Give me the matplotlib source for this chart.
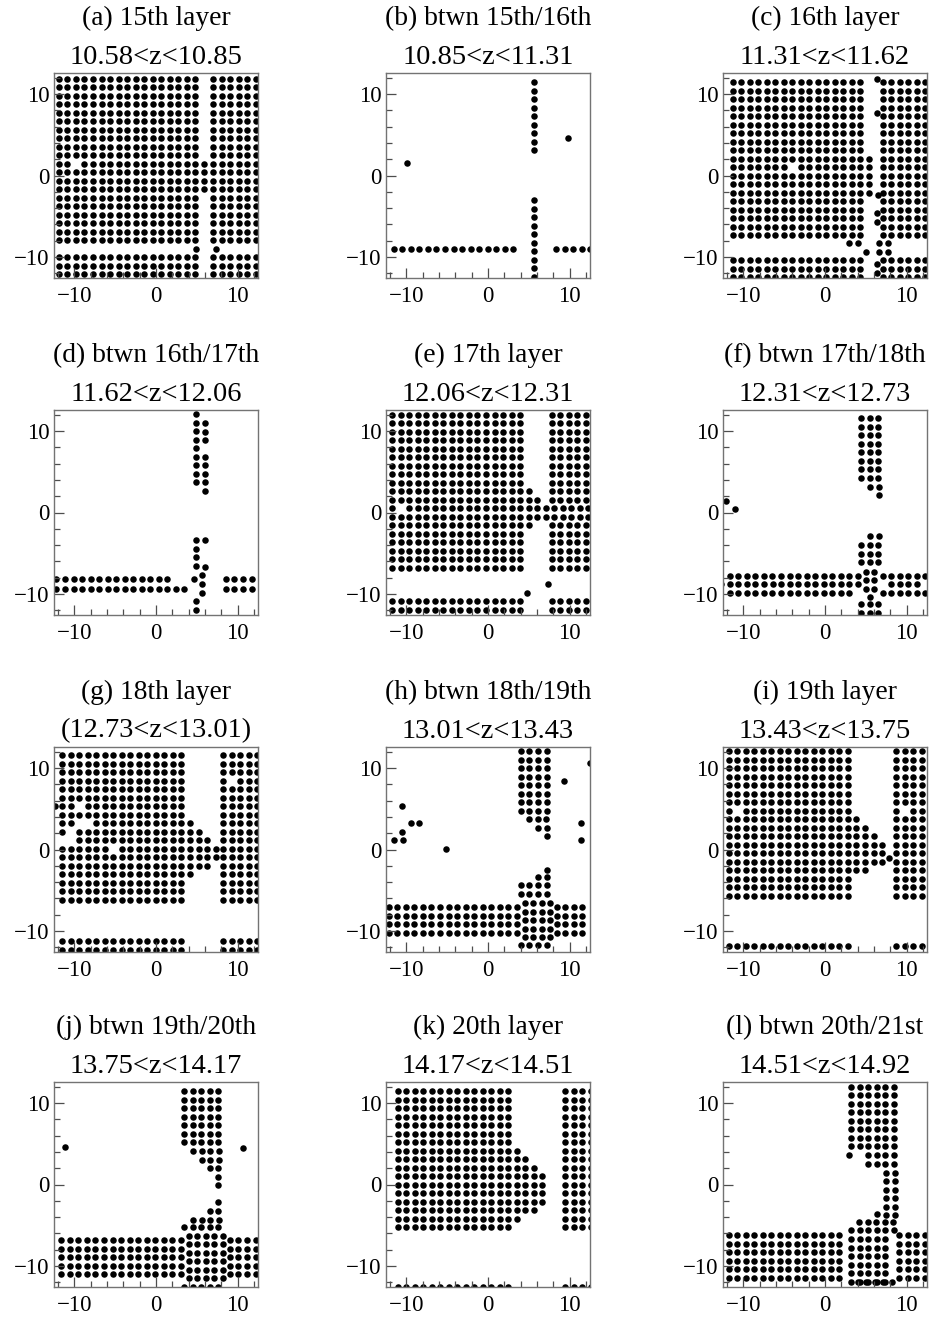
import numpy as np
import matplotlib.pyplot as plt
from matplotlib.ticker import MultipleLocator

# pixel pitch of the detector (cm)
PITCH = 1.045

titles = ["(a) 15th layer", "(b) btwn 15th/16th", "(c) 16th layer",
          "(d) btwn 16th/17th", "(e) 17th layer", "(f) btwn 17th/18th",
          "(g) 18th layer", "(h) btwn 18th/19th", "(i) 19th layer",
          "(j) btwn 19th/20th", "(k) 20th layer", "(l) btwn 20th/21st"]
z_ranges = ["10.58<z<10.85", "10.85<z<11.31", "11.31<z<11.62",
            "11.62<z<12.06", "12.06<z<12.31", "12.31<z<12.73",
            "(12.73<z<13.01)", "13.01<z<13.43", "13.43<z<13.75",
            "13.75<z<14.17", "14.17<z<14.51", "14.51<z<14.92"]

# hit blocks: (x of first column, y of top row, n columns, n rows)
blocks_a = [(-11.9, 11.9, 17, 20), (7.0, 11.9, 6, 20), (5.9, 1.45, 1, 4),
            (4.85, -9.0, 1, 1), (7.4, -9.0, 1, 1),
            (-11.9, -10.05, 17, 3), (7.0, -10.05, 6, 3)]
holes_a = [(-9.8, 1.45)]

blocks_b = [(5.68, 11.45, 1, 9), (5.68, -3.02, 1, 10),
            (-11.54, -9.0, 15, 1), (8.34, -9.0, 5, 1),
            (-9.98, 1.48, 1, 1), (9.77, 4.62, 1, 1)]
holes_b = []

blocks_c = [(-11.33, 11.45, 16, 19), (7.08, 11.45, 6, 19), (5.4, 1.03, 1, 3),
            (6.38, 11.86, 1, 1), (6.38, 7.69, 1, 1), (5.44, 2.05, 1, 1),
            (5.44, -2.12, 1, 1), (6.46, -2.41, 1, 1), (6.38, -4.66, 1, 2),
            (2.99, -8.34, 2, 1), (5.03, -9.36, 1, 1), (6.67, -8.34, 2, 2),
            (6.38, -10.9, 1, 2),
            (-11.33, -10.39, 16, 3), (7.08, -10.39, 6, 3)]
holes_c = [(-4.0, 1.03)]

blocks_d = [(4.89, 12.1, 1, 9), (5.99, 11.0, 1, 3), (5.99, 6.83, 1, 5),
            (4.89, -3.44, 1, 4), (5.99, -3.44, 1, 1), (5.99, -6.71, 1, 1),
            (5.66, -7.73, 1, 1), (4.68, -8.22, 1, 1), (5.66, -8.84, 1, 2),
            (4.89, -10.88, 1, 2),
            (-12.2, -8.22, 14, 1), (-12.2, -9.37, 16, 1),
            (8.57, -8.22, 4, 1), (8.57, -9.37, 4, 1)]
holes_d = []

blocks_e = [(-11.74, 12.02, 16, 19), (7.81, 12.02, 5, 11), (7.81, -1.565, 5, 6),
            (4.98, 2.6, 1, 2), (6.03, 1.57, 1, 1), (4.98, 0.525, 8, 2),
            (4.98, -1.565, 1, 1), (4.74, -9.86, 1, 1), (7.32, -8.75, 1, 1),
            (-11.74, -10.88, 16, 2), (7.81, -10.88, 5, 2)]
holes_e = [(-10.7, 0.525)]

blocks_f = [(4.42, 11.61, 3, 8), (5.52, 3.11, 2, 1), (6.59, 2.12, 1, 1),
            (-12.15, 1.47, 1, 1), (-11.0, 0.45, 1, 1),
            (5.52, -2.91, 2, 1), (4.42, -4.0, 3, 3),
            (-11.66, -7.8, 16, 1), (-12.7, -8.85, 17, 1), (-11.66, -9.9, 15, 1),
            (7.08, -7.8, 6, 1), (8.1, -8.85, 4, 1), (7.08, -9.9, 6, 1),
            (5.0, -7.3, 2, 3), (5.5, -10.4, 1, 1), (4.42, -11.29, 3, 2)]
holes_f = []

blocks_g = [(-11.51, 11.61, 15, 18), (8.24, 11.61, 5, 18), (-12.4, 5.3, 1, 1),
            (4.17, 3.25, 1, 1), (4.17, 2.2, 2, 1), (4.17, 1.16, 3, 1),
            (4.17, 0.115, 4, 2), (4.17, -1.975, 3, 1), (4.17, -3.02, 1, 1),
            (-11.51, -11.29, 15, 2), (8.24, -11.29, 5, 2)]
holes_g = [(-9.42, 5.34), (-9.42, 3.25), (-8.38, 3.25), (-10.47, 2.2),
           (-11.51, 1.16), (-10.47, 1.16), (-5.24, 0.115), (9.29, 8.47)]

blocks_h = [(4.04, 12.1, 4, 8), (5.07, 3.76, 3, 1), (6.17, 2.7, 2, 1), (7.19, 1.6, 1, 1),
            (12.51, 10.59, 1, 1), (9.36, 8.42, 1, 1), (11.4, 3.31, 1, 1), (11.4, 1.18, 1, 1),
            (-10.48, 5.35, 1, 1), (-9.45, 3.23, 2, 1), (-10.48, 2.21, 1, 1),
            (-11.5, 1.18, 2, 1), (-5.2, 0.08, 1, 1),
            (7.19, -2.5, 1, 1), (6.17, -3.4, 2, 1), (4.04, -4.42, 4, 2),
            (-12.15, -7.08, 16, 4), (4.5, -6.6, 4, 5), (8.42, -7.08, 4, 4),
            (4.04, -11.78, 4, 1)]
holes_h = []

blocks_i = [(-11.82, 12.1, 15, 18), (8.71, 12.1, 4, 18),
            (3.86, 3.74, 1, 1), (3.86, 2.7, 2, 1), (3.86, 1.65, 3, 1),
            (3.86, 0.605, 4, 3), (7.9, -1.06, 1, 1), (3.86, -2.53, 2, 1),
            (-11.82, -11.9, 15, 1), (8.71, -11.9, 4, 1)]
holes_i = [(-10.77, 4.79), (9.76, 4.79)]

blocks_j = [(3.45, 11.49, 5, 7), (4.56, 4.13, 4, 1), (5.58, 3.03, 3, 1),
            (6.6, 2.0, 2, 1), (7.63, 0.94, 1, 2),
            (-11.1, 4.62, 1, 1), (10.69, 4.54, 1, 1),
            (7.63, -2.21, 1, 1), (6.6, -3.31, 2, 1), (4.56, -4.33, 4, 1),
            (3.45, -5.28, 5, 1),
            (-11.6, -6.83, 15, 5), (4.0, -6.3, 5, 6), (9.06, -6.83, 4, 5),
            (3.45, -12.55, 5, 1)]
holes_j = []

blocks_k = [(-11.09, 11.49, 14, 17), (3.54, 4.175, 1, 1), (3.54, 3.13, 2, 1),
            (3.54, 2.085, 3, 1), (3.54, 1.04, 4, 4), (3.54, -3.14, 3, 1),
            (3.54, -4.185, 1, 1), (9.44, 11.49, 4, 17),
            (-11.09, -12.56, 14, 1), (9.44, -12.56, 4, 1)]
holes_k = []

blocks_l = [(3.19, 12.02, 6, 8), (3.0, 3.6, 1, 1), (5.32, 3.6, 4, 1),
            (5.32, 2.58, 4, 1), (7.49, 1.47, 2, 6), (6.38, -3.64, 1, 1),
            (4.21, -4.66, 5, 1), (3.19, -5.6, 6, 1),
            (-11.82, -6.22, 14, 6), (3.2, -6.71, 5, 6), (9.12, -6.22, 4, 6),
            (4.0, -12.02, 5, 1)]
holes_l = []

panel_blocks = [blocks_a, blocks_b, blocks_c, blocks_d, blocks_e, blocks_f,
                blocks_g, blocks_h, blocks_i, blocks_j, blocks_k, blocks_l]
panel_holes = [holes_a, holes_b, holes_c, holes_d, holes_e, holes_f,
               holes_g, holes_h, holes_i, holes_j, holes_k, holes_l]


def hits(blocks, holes):
    xs, ys = [], []
    for x0, y0, nx, ny in blocks:
        gx, gy = np.meshgrid(x0 + PITCH * np.arange(nx), y0 - PITCH * np.arange(ny))
        xs.append(gx.ravel())
        ys.append(gy.ravel())
    x = np.concatenate(xs)
    y = np.concatenate(ys)
    keep = np.ones(len(x), bool)
    for hx, hy in holes:
        keep &= np.hypot(x - hx, y - hy) > 0.4
    return x[keep], y[keep]


plt.rcParams['font.family'] = ['Liberation Serif', 'DejaVu Serif']
fig = plt.figure(figsize=(9.35, 13.19), dpi=100)

W, H = 935, 1319
lefts = [54, 386, 723]
bottoms = [278, 615, 952, 1287]

for k in range(12):
    r, c = divmod(k, 3)
    ax = fig.add_axes([lefts[c] / W, 1 - bottoms[r] / H, 204 / W, 205 / H])
    x, y = hits(panel_blocks[k], panel_holes[k])
    ax.scatter(x, y, s=22, c='black', linewidths=0)
    ax.set_xlim(-12.5, 12.5)
    ax.set_ylim(-12.6, 12.6)
    ax.xaxis.set_major_locator(MultipleLocator(10))
    ax.xaxis.set_minor_locator(MultipleLocator(2))
    ax.yaxis.set_major_locator(MultipleLocator(10))
    ax.yaxis.set_minor_locator(MultipleLocator(2))
    ax.tick_params(which='both', direction='in', top=False, right=False,
                   color='0.3', width=0.9, labelsize=16.5)
    ax.tick_params(axis='x', pad=6)
    ax.tick_params(axis='y', pad=3)
    ax.tick_params(which='major', length=7.5)
    ax.tick_params(which='minor', length=4.5)
    for sp in ax.spines.values():
        sp.set_color('0.45')
        sp.set_linewidth(1.0)
    ax.annotate(titles[k], xy=(0.5, 1), xycoords='axes fraction',
                xytext=(0, 39.5), textcoords='offset points',
                ha='center', va='center', fontsize=19.8)
    ax.annotate(z_ranges[k], xy=(0.5, 1), xycoords='axes fraction',
                xytext=(0, 11.5), textcoords='offset points',
                ha='center', va='center', fontsize=20.5)

fig.savefig('out.png', dpi=100)
